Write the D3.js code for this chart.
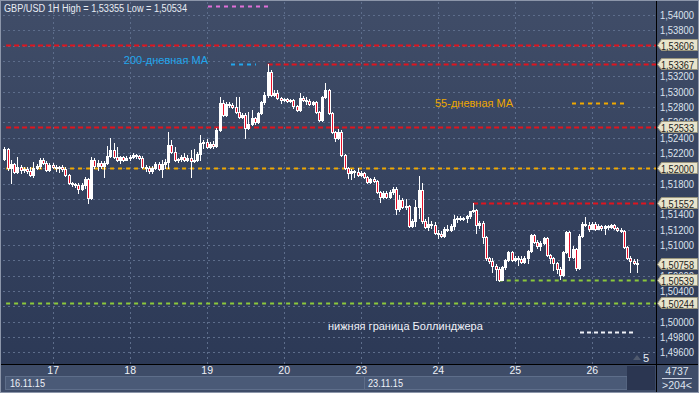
<!DOCTYPE html>
<html>
<head>
<meta charset="utf-8">
<script src="https://d3js.org/d3.v7.min.js"></script>
<style>
 body { margin: 0; background: #2f3b57; }
 svg text { font-family: "Liberation Sans", Arial, sans-serif; font-size: 11px; }
</style>
</head>
<body>
<svg class="chart"></svg>
<script>
var width = 699, height = 393,
    plotLeft = 3, plotRight = 656, plotTop = 2, plotBottom = 364;

// hourly GBP/USD candles, 16.11.15 09:00 .. 26.11.15 14:00
var firstOpen = 1.5212;
var closes = [
 1.5225,1.5201,1.5206,1.5195,1.5202,1.5198,1.5199,1.5197,1.5191,1.5201,
 1.5203,1.5211,1.5207,1.5198,1.5204,1.5202,1.5201,1.5202,1.5199,1.5191,
 1.5181,1.5180,1.5178,1.5173,1.5178,1.5186,1.5161,1.5211,1.5203,1.5207,
 1.5203,1.5207,1.5216,1.5224,1.5215,1.5211,1.5215,1.5211,1.5214,1.5215,
 1.5217,1.5216,1.5214,1.5202,1.5201,1.5197,1.5201,1.5206,1.5199,1.5206,
 1.5208,1.5231,1.5221,1.5211,1.5212,1.5215,1.5211,1.5214,1.5210,1.5211,
 1.5219,1.5233,1.5234,1.5228,1.5232,1.5229,1.5250,1.5285,1.5270,1.5284,
 1.5283,1.5280,1.5274,1.5267,1.5270,1.5253,1.5258,1.5266,1.5261,1.5272,
 1.5287,1.5296,1.5326,1.5296,1.5298,1.5292,1.5289,1.5290,1.5288,1.5289,
 1.5281,1.5276,1.5292,1.5289,1.5288,1.5284,1.5287,1.5274,1.5263,1.5293,
 1.5302,1.5272,1.5247,1.5240,1.5247,1.5217,1.5201,1.5194,1.5197,1.5195,
 1.5191,1.5194,1.5189,1.5182,1.5186,1.5183,1.5169,1.5163,1.5168,1.5163,
 1.5169,1.5173,1.5147,1.5159,1.5150,1.5151,1.5125,1.5131,1.5150,1.5172,
 1.5131,1.5123,1.5127,1.5126,1.5116,1.5114,1.5112,1.5121,1.5120,1.5125,
 1.5134,1.5135,1.5134,1.5135,1.5138,1.5144,1.5146,1.5126,1.5129,1.5110,
 1.5083,1.5079,1.5073,1.5069,1.5054,1.5071,1.5080,1.5091,1.5080,1.5083,
 1.5082,1.5078,1.5083,1.5092,1.5113,1.5104,1.5099,1.5103,1.5109,1.5087,
 1.5083,1.5077,1.5069,1.5061,1.5091,1.5117,1.5084,1.5095,1.5070,1.5112,
 1.5127,1.5126,1.5121,1.5127,1.5121,1.5125,1.5122,1.5125,1.5123,1.5126,
 1.5122,1.5120,1.5118,1.5097,1.5083,1.5079,1.5077,1.50758];
var highs = [
 1.5228,1.5227,1.5211,1.5207,1.5215,1.5204,1.5202,1.5202,1.5202,1.5208,
 1.5206,1.5214,1.5214,1.5210,1.5207,1.5207,1.5204,1.5203,1.5204,1.5202,
 1.5193,1.5182,1.5181,1.5181,1.5181,1.5189,1.5187,1.5215,1.5214,1.5211,
 1.5210,1.5210,1.5229,1.5240,1.5233,1.5228,1.5216,1.5216,1.5216,1.5217,
 1.5220,1.5219,1.5217,1.5216,1.5204,1.5203,1.5203,1.5208,1.5208,1.5211,
 1.5212,1.5247,1.5237,1.5228,1.5214,1.5217,1.5220,1.5217,1.5224,1.5225,
 1.5221,1.5244,1.5237,1.5238,1.5234,1.5236,1.5253,1.5293,1.5289,1.5287,
 1.5287,1.5285,1.5293,1.5293,1.5272,1.5272,1.5274,1.5276,1.5267,1.5274,
 1.5288,1.5300,1.53355,1.5328,1.5302,1.5302,1.5293,1.5292,1.5292,1.5290,
 1.5290,1.5283,1.5298,1.5294,1.5293,1.5290,1.5288,1.5288,1.5275,1.5294,
 1.5311,1.5304,1.5274,1.5249,1.5251,1.5250,1.5219,1.5202,1.5199,1.5198,
 1.5201,1.5197,1.5195,1.5190,1.5187,1.5189,1.5185,1.5170,1.5170,1.5170,
 1.5172,1.5176,1.5176,1.5165,1.5161,1.5160,1.5152,1.5134,1.5159,1.5190,
 1.5181,1.5134,1.5137,1.5131,1.5130,1.5120,1.5118,1.5123,1.5126,1.5127,
 1.5139,1.5138,1.5138,1.5137,1.5139,1.5144,1.51552,1.5147,1.5131,1.5131,
 1.5112,1.5084,1.5083,1.5075,1.5071,1.5073,1.5082,1.5092,1.5092,1.5086,
 1.5086,1.5086,1.5086,1.5094,1.5114,1.5114,1.5107,1.5105,1.5110,1.5110,
 1.5088,1.5084,1.5078,1.5071,1.5092,1.5118,1.5118,1.5099,1.5096,1.5114,
 1.5130,1.5137,1.5130,1.5130,1.5130,1.5127,1.5126,1.5126,1.5126,1.5127,
 1.5127,1.5123,1.5122,1.5120,1.5099,1.5086,1.5082,1.5082];
var lows = [
 1.5211,1.5198,1.5181,1.5194,1.5194,1.5194,1.5195,1.5194,1.5190,1.5189,
 1.5199,1.5201,1.5206,1.5197,1.5197,1.5201,1.5197,1.5195,1.5197,1.5190,
 1.5180,1.5177,1.5176,1.5168,1.5172,1.5174,1.5155,1.5160,1.5201,1.5198,
 1.5201,1.5189,1.5206,1.5215,1.5214,1.5210,1.5207,1.5210,1.5211,1.5211,
 1.5214,1.5214,1.5212,1.5201,1.5197,1.5194,1.5194,1.5199,1.5198,1.5189,
 1.5201,1.5201,1.5220,1.5210,1.5208,1.5210,1.5210,1.5210,1.5189,1.5208,
 1.5210,1.5211,1.5227,1.5227,1.5227,1.5227,1.5228,1.5249,1.5268,1.5268,
 1.5280,1.5279,1.5272,1.5266,1.5266,1.5240,1.5251,1.5257,1.5258,1.5259,
 1.5271,1.5284,1.5293,1.5294,1.5294,1.5290,1.5285,1.5288,1.5287,1.5287,
 1.5279,1.5275,1.5275,1.5288,1.5284,1.5283,1.5283,1.5272,1.5262,1.5262,
 1.5292,1.5271,1.5246,1.5236,1.5238,1.5216,1.5199,1.5187,1.5186,1.5189,
 1.5190,1.5190,1.5187,1.5181,1.5181,1.5182,1.5168,1.5156,1.5161,1.5161,
 1.5161,1.5167,1.5140,1.5144,1.5148,1.5147,1.5123,1.5123,1.5125,1.5135,
 1.5129,1.5122,1.5120,1.5122,1.5114,1.5109,1.5110,1.5110,1.5118,1.5118,
 1.5121,1.5130,1.5133,1.5133,1.5130,1.5135,1.5143,1.5116,1.5122,1.5103,
 1.5080,1.5077,1.5065,1.5054,1.50534,1.5054,1.5069,1.5079,1.5079,1.5079,
 1.5074,1.5077,1.5077,1.5077,1.5091,1.5103,1.5096,1.5094,1.5101,1.5086,
 1.5077,1.5067,1.5063,1.5056,1.5060,1.5090,1.5080,1.5083,1.5067,1.5069,
 1.5110,1.5125,1.5118,1.5121,1.5120,1.5121,1.5120,1.5114,1.5121,1.5122,
 1.5121,1.5118,1.5117,1.5096,1.5082,1.5065,1.5075,1.5065];

var priceTicks = [1.496,1.498,1.500,1.502,1.504,1.506,1.508,1.510,1.512,1.514,1.516,
                  1.518,1.520,1.522,1.524,1.526,1.528,1.530,1.532,1.534,1.536,1.538,1.540];
var dayStarts = [15, 39, 63, 87, 111, 135, 159, 183];
var dayLabels = ["17", "18", "19", "20", "23", "24", "25", "26"];
var weekStarts = [-5, 111];
var weekLabels = ["16.11.15", "23.11.15"];

var resistLevels = [1.53606, 1.53367, 1.52533, 1.51552];
var resistFrom = [-2, 82, -2, 146];
var ma55Level = 1.52000;
var bollLevels = [1.50539, 1.50244];
var bollFrom = [154, -2];
var markerPrices = [1.53606, 1.53367, 1.52533, 1.52000, 1.51552, 1.50758, 1.50539, 1.50244];

var titleText = "GBP/USD 1H High = 1,53355 Low = 1,50534";

var candles = closes.map(function(c, i) {
    return { i: i, o: i ? closes[i - 1] : firstOpen, h: highs[i], l: lows[i], c: c };
});

var locale = d3.formatLocale({decimal: ",", thousands: " ", grouping: [3], currency: ["", ""]});
var fmt = locale.format(".5f");

var x = d3.scaleLinear().domain([-1.4, 203]).range([0, plotRight]);
var y = d3.scaleLinear().domain([1.496, 1.540]).range([352.4, 15]);

// tick labels sitting right under a price marker are hidden by it
var visibleTicks = priceTicks.filter(function(t) {
    return markerPrices.every(function(m) { return Math.abs(y(t) - y(m)) >= 4; });
});

var svg = d3.select(".chart").attr("width", width).attr("height", height);
var defs = svg.append("defs");

var grad = defs.append("linearGradient").attr("id", "bg")
    .attr("x1", 0).attr("y1", 0).attr("x2", 0).attr("y2", 1);
grad.append("stop").attr("offset", "0%").attr("stop-color", "#404d68");
grad.append("stop").attr("offset", "100%").attr("stop-color", "#2c3956");

defs.append("clipPath").attr("id", "plotclip").append("rect")
    .attr("x", plotLeft).attr("y", plotTop)
    .attr("width", plotRight - plotLeft).attr("height", plotBottom - plotTop);

// backgrounds
svg.append("rect").attr("width", width).attr("height", height).attr("fill", "#8c96aa");
svg.append("rect").attr("x", 1).attr("y", 1).attr("width", width - 2).attr("height", plotBottom)
    .attr("fill", "url(#bg)");
svg.append("rect").attr("x", 1).attr("y", plotBottom).attr("width", width - 2).attr("height", height - plotBottom - 1)
    .attr("fill", "#3e4c68");

// date strip
svg.selectAll(".weekbox").data(weekStarts).enter().append("rect")
    .attr("class", "weekbox")
    .attr("x", function(d, i) { return i ? Math.round(x(d)) + 3.5 : 5.5; })
    .attr("y", 376.5).attr("height", 13)
    .attr("width", function(d, i) { return i ? 627 - (Math.round(x(d)) + 3.5) : Math.round(x(weekStarts[1])) + 3 - 5; })
    .attr("fill", "#4a5a77").attr("stroke", "#5e6e8a").attr("stroke-width", 1);
svg.append("rect").attr("x", 627).attr("y", 366).attr("width", 28).attr("height", 24)
    .attr("fill", "#2b3651");

var plot = svg.append("g").attr("clip-path", "url(#plotclip)");

// grid
plot.append("g").selectAll("line").data(priceTicks).enter().append("line")
    .attr("x1", plotLeft).attr("x2", plotRight)
    .attr("y1", function(d) { return Math.round(y(d)) + 0.5; })
    .attr("y2", function(d) { return Math.round(y(d)) + 0.5; })
    .attr("stroke", "#5d6d8b").attr("stroke-dasharray", "2,3");
plot.append("g").selectAll("line").data(dayStarts).enter().append("line")
    .attr("y1", plotTop).attr("y2", plotBottom)
    .attr("x1", function(d) { return Math.round(x(d)) + 0.5; })
    .attr("x2", function(d) { return Math.round(x(d)) + 0.5; })
    .attr("stroke", "#5d6d8b").attr("stroke-dasharray", "2,3");

// level lines
function levelLine(price, from, color, dash) {
    plot.append("line")
        .attr("x1", x(from)).attr("x2", plotRight)
        .attr("y1", Math.round(y(price)) + 0.5).attr("y2", Math.round(y(price)) + 0.5)
        .attr("stroke", color).attr("stroke-width", 2).attr("stroke-dasharray", dash);
}
resistLevels.forEach(function(p, k) { levelLine(p, resistFrom[k], "#e0141e", "5,3"); });
levelLine(ma55Level, -2, "#f0a800", "4,4");
bollLevels.forEach(function(p, k) { levelLine(p, bollFrom[k], "#8cc83c", "4,4"); });

// candles
var cg = plot.append("g").attr("shape-rendering", "crispEdges");
var cnd = cg.selectAll("g").data(candles).enter().append("g");
cnd.append("line")
    .attr("x1", function(d) { return Math.round(x(d.i)) + 0.5; })
    .attr("x2", function(d) { return Math.round(x(d.i)) + 0.5; })
    .attr("y1", function(d) { return Math.round(y(Math.max(d.h, d.o, d.c))); })
    .attr("y2", function(d) { return Math.round(y(Math.min(d.l, d.o, d.c))) + 1; })
    .attr("stroke", "#ffffff");
cnd.append("rect")
    .attr("x", function(d) { return Math.round(x(d.i)) - 0.5; })
    .attr("width", 2)
    .attr("y", function(d) { return Math.round(y(Math.max(d.o, d.c))) + 0.5; })
    .attr("height", function(d) {
        return Math.max(1, Math.round(y(Math.min(d.o, d.c))) - Math.round(y(Math.max(d.o, d.c))));
    })
    .attr("fill", function(d) { return d.c < d.o ? "#e8102a" : "#ffffff"; })
    .attr("stroke", "#ffffff");

// annotations
svg.append("text").attr("x", 4).attr("y", 12).attr("fill", "#e8ecf4")
    .style("font-size", "10px").attr("textLength", 183).attr("lengthAdjust", "spacingAndGlyphs")
    .text(titleText);
svg.append("line").attr("x1", 208).attr("x2", 270).attr("y1", 6.5).attr("y2", 6.5)
    .attr("stroke", "#e070d8").attr("stroke-width", 2).attr("stroke-dasharray", "4,4");

svg.append("text").attr("x", 208).attr("y", 64).attr("text-anchor", "end")
    .attr("fill", "#22a6ec").text("200-дневная МА");
svg.append("line").attr("x1", 231).attr("x2", 256).attr("y1", 64.5).attr("y2", 64.5)
    .attr("stroke", "#22a6ec").attr("stroke-width", 2).attr("stroke-dasharray", "4,4");

svg.append("text").attr("x", 435).attr("y", 107)
    .attr("fill", "#f0a800").text("55-дневная МА");
svg.append("line").attr("x1", 572).attr("x2", 627).attr("y1", 103.5).attr("y2", 103.5)
    .attr("stroke", "#f0a800").attr("stroke-width", 2).attr("stroke-dasharray", "4,4");

svg.append("text").attr("x", 328).attr("y", 330)
    .attr("fill", "#f0f2f8").text("нижняя граница Боллинджера");
svg.append("line").attr("x1", 580).attr("x2", 633).attr("y1", 332.5).attr("y2", 332.5)
    .attr("stroke", "#f0f2f8").attr("stroke-width", 2).attr("stroke-dasharray", "4,3");

// shift marker
svg.append("path").attr("d", "M633,360 L637,355 L641,360 Z").attr("fill", "#505a6e");
svg.append("text").attr("x", 643).attr("y", 362).attr("fill", "#e8ecf4").text("5");

// separators
svg.append("line").attr("x1", plotRight + 0.5).attr("x2", plotRight + 0.5).attr("y1", 1).attr("y2", height - 1)
    .attr("stroke", "#000");
svg.append("line").attr("x1", 1).attr("x2", width - 1).attr("y1", plotBottom + 0.5).attr("y2", plotBottom + 0.5)
    .attr("stroke", "#000");

// right price axis
var yAxis = svg.append("g").attr("transform", "translate(" + (plotRight + 1) + ",0)")
    .call(d3.axisRight(y).tickValues(visibleTicks).tickFormat(fmt).tickSize(0).tickPadding(3));
yAxis.select(".domain").remove();
yAxis.selectAll("text").attr("fill", "#dde3ee")
    .attr("textLength", 34).attr("lengthAdjust", "spacingAndGlyphs")
    .style("font-family", "'Liberation Sans', Arial, sans-serif").style("font-size", "10.5px");

// price markers
var mk = svg.append("g").selectAll("g").data(markerPrices).enter().append("g")
    .attr("transform", function(d) { return "translate(0," + Math.round(y(d)) + ")"; });
mk.append("path")
    .attr("d", "M657.5,0.5 L661.5,-5.5 L697.5,-5.5 L697.5,5.5 L661.5,5.5 Z")
    .attr("fill", "#e8e4cc").attr("stroke", "#9a967e");
mk.append("text").attr("x", 661).attr("y", 4.5).attr("fill", "#1c1c1c")
    .style("font-size", "10.5px").attr("textLength", 33).attr("lengthAdjust", "spacingAndGlyphs")
    .text(function(d) { return fmt(d); });

// bottom time axis
var xAxis = svg.append("g").attr("transform", "translate(0," + plotBottom + ")")
    .call(d3.axisBottom(x).tickValues(dayStarts).tickFormat(function(d, i) { return dayLabels[i]; })
          .tickSize(0).tickPadding(3));
xAxis.select(".domain").remove();
xAxis.selectAll("text").attr("fill", "#eef1f7")
    .style("font-family", "'Liberation Sans', Arial, sans-serif").style("font-size", "10.5px");

svg.selectAll(".weeklabel").data(weekLabels).enter().append("text")
    .attr("class", "weeklabel")
    .attr("x", function(d, i) { return i ? Math.round(x(weekStarts[1])) + 7 : 10; })
    .attr("y", 387).attr("fill", "#eef1f7")
    .style("font-size", "10.5px").attr("textLength", 35).attr("lengthAdjust", "spacingAndGlyphs")
    .text(function(d) { return d; });

// corner cell
svg.append("text").attr("x", 677).attr("y", 375).attr("text-anchor", "middle")
    .attr("fill", "#dde3ee").style("font-size", "10.5px").text("4737");
svg.append("line").attr("x1", 662).attr("x2", 692).attr("y1", 378.5).attr("y2", 378.5)
    .attr("stroke", "#c8d0e0");
svg.append("text").attr("x", 677).attr("y", 389).attr("text-anchor", "middle")
    .attr("fill", "#dde3ee").style("font-size", "10.5px").text(">204<");
</script>
</body>
</html>
